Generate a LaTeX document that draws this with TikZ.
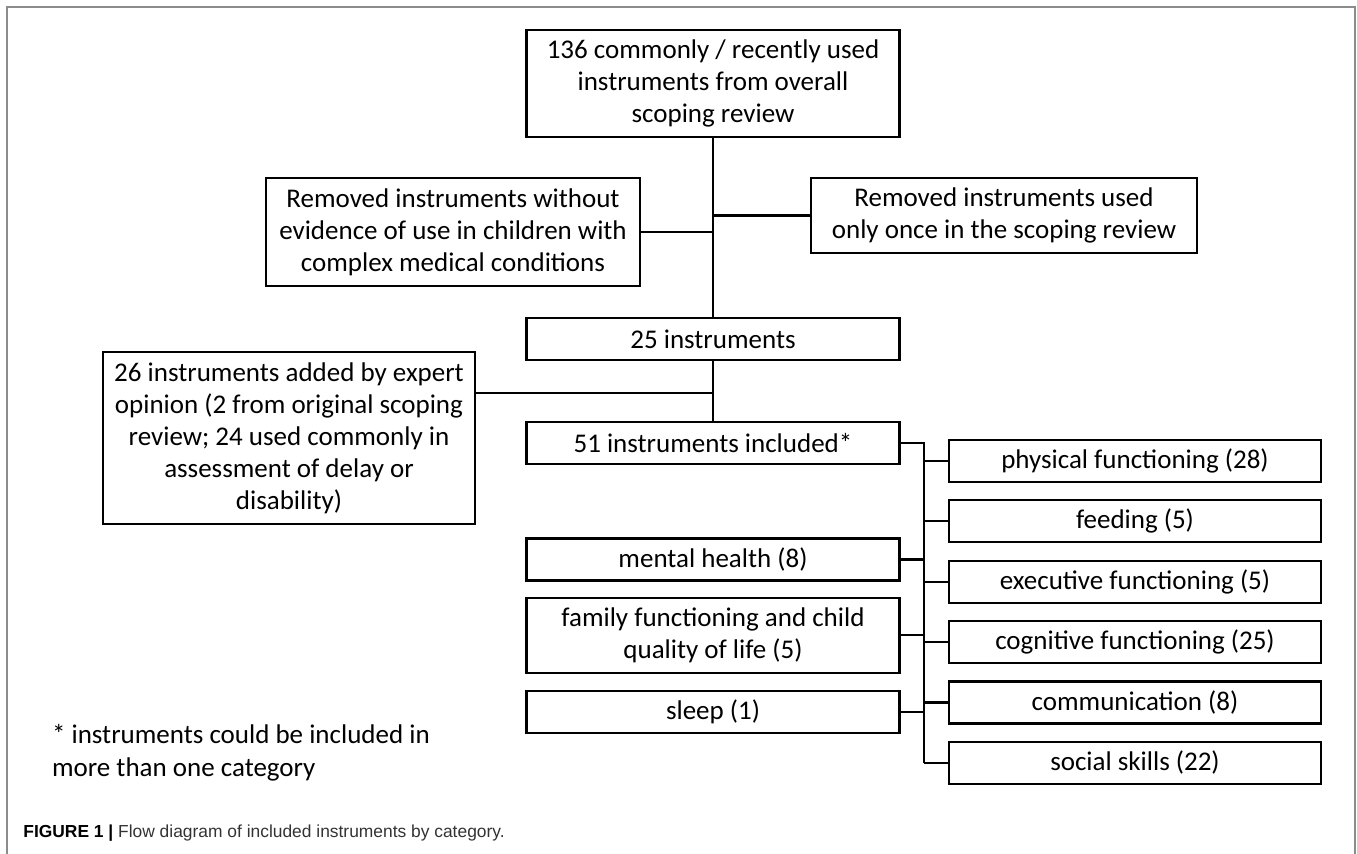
\documentclass[tikz,border=0pt]{standalone}
\usepackage{fontspec}
\setmainfont{Carlito}
\newfontfamily\captionfont{Liberation Sans}
\usepackage{tikz}
\usetikzlibrary{positioning, calc}

\tikzstyle{line}=[line width=1.1pt, draw=black]
\tikzstyle{box}=[rectangle, draw, line width=1.1pt, fill=white, inner sep=0pt, minimum height=21pt, minimum width=186.5pt, align=center, font=\fontsize{13.5}{16}\selectfont]
\tikzstyle{frame}=[line width=1pt, draw=black!45]

\begin{document}
\begin{tikzpicture}[x=0.5pt, y=-0.5pt, node distance=8.1pt]
        \useasboundingbox (0,0) rectangle (1357,854);
        % Frame round the figure
        \draw[frame] (7,854) -- (7,7) -- (1355,7) -- (1355,854);

        % Draw the main column
        \node[box, minimum height=53.5pt](overall review) at (713,83.5){136 commonly / recently used\\ instruments from overall\\ scoping review};
        \node[box, below = 89.5pt of overall review](kept){25 instruments};
        \node[box, below = 30pt of kept](included){51 instruments included*};

        % Removed and added instruments
        \node[box, minimum width=187pt, minimum height=54pt](no evidence) at (453,232){Removed instruments without\\ evidence of use in children with\\ complex medical conditions};
        \node[box, minimum width=193pt, minimum height=37.5pt](used once) at (1004,215.5){Removed instruments used\\ only once in the scoping review};
        \node[box, minimum width=186pt, minimum height=86pt](expert) at (289,438){26 instruments added by expert\\ opinion (2 from original scoping\\ review; 24 used commonly in\\ assessment of delay or\\ disability)};

        % Categories, left side
        \node[box, below = 36pt of included](mental health){mental health (8)};
        \node[box, below = 7.5pt of mental health, minimum height=37.5pt](family){family functioning and child\\ quality of life (5)};
        \node[box, below = of family](sleep){sleep (1)};

        % Categories, right side
        \node[box, minimum width=186pt](physical) at (1135,461){physical functioning (28)};
        \node[box, minimum width=186pt, below = of physical](feeding){feeding (5)};
        \node[box, minimum width=186pt, below = of feeding](executive){executive functioning (5)};
        \node[box, minimum width=186pt, below = of executive](cognitive){cognitive functioning (25)};
        \node[box, minimum width=186pt, below = of cognitive](communication){communication (8)};
        \node[box, minimum width=186pt, below = of communication](social skills){social skills (22)};

        \coordinate (join expert) at (713,393);
        \coordinate (branch top) at ($(included.east)+(11.5pt,0)$);
        \coordinate (branch bottom) at (branch top |- social skills.west);

        % Connectors
        \draw[line] (overall review) -- (kept);
        \draw[line] (kept) -- (included);
        \draw[line] (no evidence.east) -- (no evidence.east -| kept.north);
        \draw[line] (used once.west) -- (used once.west -| kept.north);
        \draw[line] (expert.east |- join expert) -- (join expert);
        \draw[line] (included.east) -- (branch top) -- (branch bottom);
        \foreach \p in {physical, feeding, executive, cognitive, communication, social skills} {
            \draw[line] (\p.west) -- (\p.west -| branch top);
        }
        \foreach \p in {mental health, family, sleep} {
            \draw[line] (\p.east) -- (\p.east -| branch top);
        }

        \node[anchor=west, align=left, font=\fontsize{13.5}{16.5}\selectfont](footnote) at (45,753){* instruments could be included in\\ more than one category};
        \node[anchor=base west, inner sep=0pt, text=black!80, font=\captionfont\fontsize{8.7}{10}\selectfont](caption) at (23,838){\textbf{\color{black}FIGURE 1 |} Flow diagram of included instruments by category.};
    \end{tikzpicture}
\end{document}
